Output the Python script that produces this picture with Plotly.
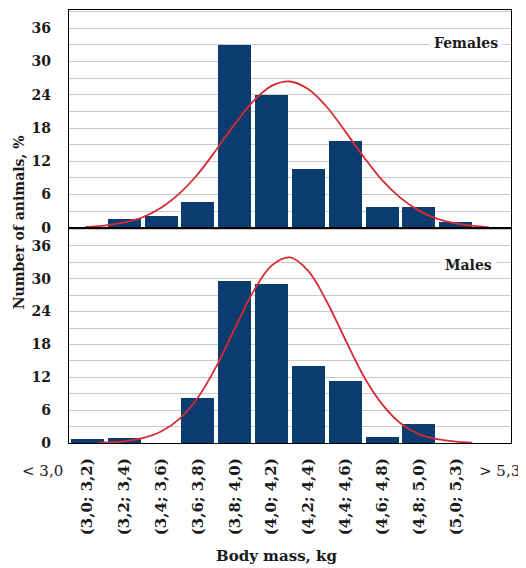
import plotly.graph_objects as go

# ---- data ----
tick_labels = ["(3,0; 3,2)", "(3,2; 3,4)", "(3,4; 3,6)", "(3,6; 3,8)", "(3,8; 4,0)",
               "(4,0; 4,2)", "(4,2; 4,4)", "(4,4; 4,6)", "(4,6; 4,8)", "(4,8; 5,0)",
               "(5,0; 5,3)"]
edge_labels = ["< 3,0", "> 5,3"]
slots = list(range(12))
females = [0, 1.6, 2.1, 4.6, 33.0, 23.9, 10.6, 15.7, 3.8, 3.8, 1.1, 0]
males = [0.7, 0.9, 0, 8.3, 29.6, 29.1, 14.1, 11.3, 1.2, 3.5, 0, 0]

fem_curve_x = [-0.05, 0.5, 1.0, 1.5, 2.0, 2.5, 3.0, 3.5, 4.0, 4.5, 5.0, 5.5, 6.0, 6.5,
               7.0, 7.5, 8.0, 8.5, 9.0, 9.5, 10.0, 10.5, 10.9]
fem_curve_y = [0.15, 0.43, 0.96, 1.9, 3.6, 6.2, 9.7, 14.1, 18.7, 22.8, 25.6, 26.4, 25.0,
               21.8, 17.4, 12.8, 8.6, 5.4, 3.1, 1.6, 0.8, 0.34, 0.1]
male_curve_x = [0.3, 1.0, 1.5, 2.0, 2.5, 3.0, 3.5, 4.0, 4.5, 5.0, 5.5, 6.0, 6.5,
                7.0, 7.5, 8.0, 8.5, 9.0, 9.5, 10.0, 10.45]
male_curve_y = [0.05, 0.3, 0.9, 2.1, 4.4, 8.3, 14.0, 20.9, 27.6, 32.4, 33.9, 31.4, 25.8,
                18.9, 12.2, 7.1, 3.6, 1.6, 0.7, 0.25, 0.05]
y_ticks = [0, 6, 12, 18, 24, 30, 36]

BAR = "#0b3c6f"
RED = "#d92a33"
GRID = "#c9c9c9"
FONT = "DejaVu Serif"
TXT = "#1a1a1a"

fig = go.Figure()
fig.add_trace(go.Bar(x=slots, y=females, marker_color=BAR, marker_line_width=0,
                     width=0.9, xaxis="x", yaxis="y", showlegend=False))
fig.add_trace(go.Scatter(x=fem_curve_x, y=fem_curve_y, mode="lines",
                         line=dict(color=RED, width=1.8, shape="spline"),
                         xaxis="x", yaxis="y", showlegend=False))
fig.add_trace(go.Bar(x=slots, y=males, marker_color=BAR, marker_line_width=0,
                     width=0.9, xaxis="x2", yaxis="y2", showlegend=False))
fig.add_trace(go.Scatter(x=male_curve_x, y=male_curve_y, mode="lines",
                         line=dict(color=RED, width=1.8, shape="spline"),
                         xaxis="x2", yaxis="y2", showlegend=False))

split = 0.497
yax = dict(range=[0, 39.3], tickvals=y_ticks, showgrid=True, gridcolor=GRID,
           gridwidth=1, minor=dict(dtick=3, tick0=0, showgrid=True, gridcolor=GRID),
           showline=True, linecolor="black", linewidth=1.3, mirror=True,
           ticks="", ticklabelstandoff=14, zeroline=False,
           tickfont=dict(family=FONT, size=14, color=TXT, weight="bold"))
xax_common = dict(range=[-0.5, 11.5], showgrid=False, zeroline=False,
                  showline=True, linecolor="black", linewidth=1.3, mirror=True, ticks="")

# page body has an 8px default margin, so the figure is sized/offset to compensate
fig.update_layout(
    width=518, height=560,
    margin=dict(l=61, r=15, t=2, b=125),
    paper_bgcolor="white", plot_bgcolor="white",
    bargap=0,
    xaxis=dict(**xax_common, domain=[0, 1], anchor="y", showticklabels=False),
    yaxis=dict(**yax, domain=[split, 1], anchor="x"),
    xaxis2=dict(**xax_common, domain=[0, 1], anchor="y2",
                tickvals=list(range(len(tick_labels))), ticktext=tick_labels,
                tickangle=-90, ticklabelstandoff=8,
                tickfont=dict(family=FONT, size=15, color=TXT, weight="bold")),
    yaxis2=dict(**yax, domain=[0, split], anchor="x2"),
)

lab_font = dict(family=FONT, size=14, color=TXT, weight="bold")
common = dict(xref="paper", yref="paper", showarrow=False, xanchor="center", yanchor="middle")
fig.add_annotation(text="Females", x=0.898, y=0.924, bgcolor="white", borderpad=4,
                   font=lab_font, **common)
fig.add_annotation(text="Males", x=0.903, y=0.411, bgcolor="white", borderpad=4,
                   font=lab_font, **common)
fig.add_annotation(text=edge_labels[0], x=-0.059, y=-0.065,
                   font=dict(family=FONT, size=15, color=TXT), **common)
fig.add_annotation(text=edge_labels[1], x=0.975, y=-0.065,
                   font=dict(family=FONT, size=15, color=TXT), **common)
fig.add_annotation(text="Body mass, kg", x=0.47, y=-0.261,
                   font=dict(family=FONT, size=15, color=TXT, weight="bold"), **common)
fig.add_annotation(text="Number of animals, %", x=-0.113, y=0.51, textangle=-90,
                   font=dict(family=FONT, size=14, color=TXT, weight="bold"), **common)

fig.write_html("out.html")
